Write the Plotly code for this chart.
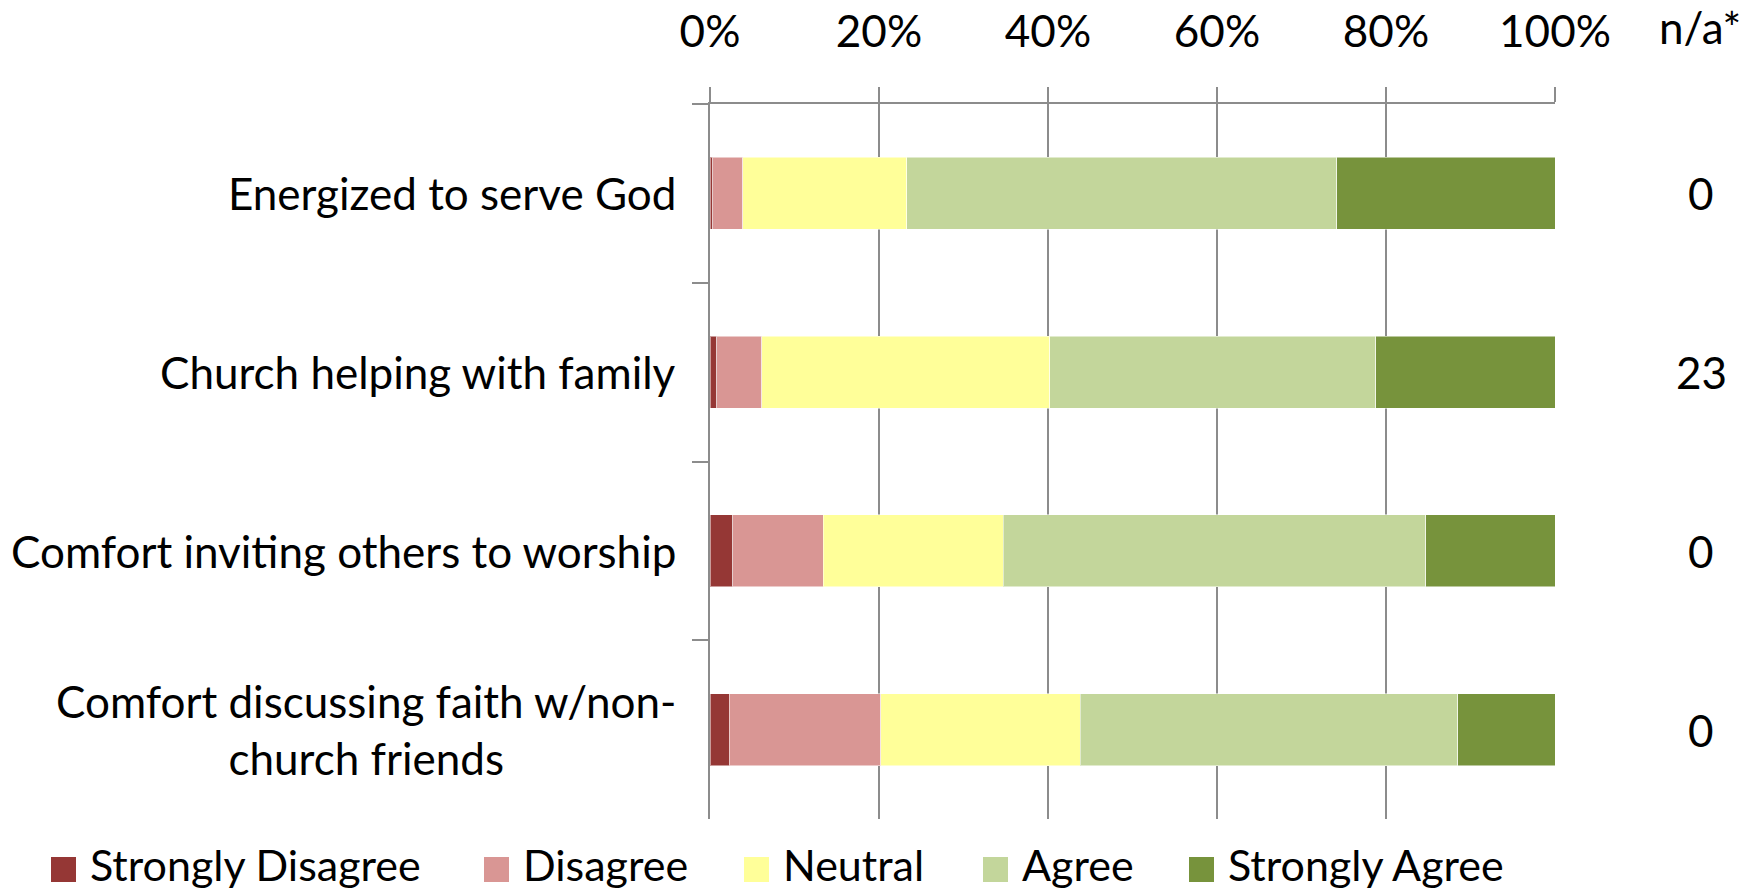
import plotly.graph_objects as go

# Survey statements (top to bottom) and their wrapped display labels
statements = [
    "Energized to serve God",
    "Church helping with family",
    "Comfort inviting others to worship",
    "Comfort discussing faith w/non-church friends",
]
statement_labels = [
    "Energized to serve God",
    "Church helping with family",
    "Comfort inviting others to worship",
    "Comfort discussing faith w/non-<br>church friends",
]

# Response shares (% of answering respondents)
response_levels = ["Strongly Disagree", "Disagree", "Neutral", "Agree", "Strongly Agree"]
strongly_disagree = [0.3, 0.8, 2.7, 2.3]
disagree = [3.6, 5.3, 10.7, 17.9]
neutral = [19.4, 34.1, 21.3, 23.6]
agree = [50.9, 38.6, 50.0, 44.7]
strongly_agree = [25.8, 21.2, 15.3, 11.5]

# Count of "not applicable" answers per statement
na_counts = [0, 23, 0, 0]

x_ticks = [0, 20, 40, 60, 80, 100]

colors = ["#953735", "#D99694", "#FFFF99", "#C3D69B", "#77933C"]
series = [strongly_disagree, disagree, neutral, agree, strongly_agree]

W, H = 1756, 892
ML, MR, MT, MB = 710, 201, 104, 73
PW, PH = W - ML - MR, H - MT - MB
FONT = "Lato"
FS = 44
GRAY = "#8C8C8C"


def px_x(px):
    return (px - ML) / PW


def px_y(py):
    return (H - MB - py) / PH


fig = go.Figure()
for name, vals, col in zip(response_levels, series, colors):
    fig.add_trace(go.Bar(
        y=statements, x=vals, name=name, orientation="h",
        marker=dict(color=col, line=dict(color="rgba(255,255,255,0.5)", width=1)),
        showlegend=False, hoverinfo="x+name",
    ))

annotations = []
# statement labels, centered multi-line, right-aligned to the axis
for s, lab in zip(statements, statement_labels):
    annotations.append(dict(
        x=0, xref="paper", y=s, yref="y", text=lab, showarrow=False,
        xanchor="right", yanchor="middle", align="center", xshift=-32,
        font=dict(family=FONT, size=FS, color="black"),
    ))

# n/a column
annotations.append(dict(
    x=px_x(1700), xref="paper", y=px_y(27), yref="paper", text="n/a*",
    showarrow=False, xanchor="center", yanchor="middle",
    font=dict(family=FONT, size=FS, color="black"),
))
for s, n in zip(statements, na_counts):
    annotations.append(dict(
        x=px_x(1701), xref="paper", y=s, yref="y", text=str(n), showarrow=False,
        xanchor="center", yanchor="middle",
        font=dict(family=FONT, size=FS, color="black"),
    ))

# legend row drawn along the bottom
legend_x = [51, 484, 744, 983, 1189]
shapes = []
for lx, name, col in zip(legend_x, response_levels, colors):
    shapes.append(dict(
        type="rect", xref="paper", yref="paper",
        x0=px_x(lx), x1=px_x(lx + 25), y0=px_y(882), y1=px_y(857),
        fillcolor=col, line=dict(width=0),
    ))
    annotations.append(dict(
        x=px_x(lx + 37), xref="paper", y=px_y(892), yref="paper", text=name,
        showarrow=False, xanchor="left", yanchor="bottom",
        font=dict(family=FONT, size=43, color="black"),
    ))

fig.update_layout(
    width=W, height=H, barmode="stack", bargap=0.597,
    margin=dict(l=ML, r=MR, t=MT, b=MB, pad=0, autoexpand=False),
    paper_bgcolor="white", plot_bgcolor="white",
    font=dict(family=FONT, size=FS, color="black"),
    annotations=annotations, shapes=shapes,
    xaxis=dict(
        side="top", range=[0, 100], tickvals=x_ticks,
        ticktext=[f"{t}%" for t in x_ticks],
        showgrid=True, gridcolor=GRAY, gridwidth=2,
        showline=True, linecolor=GRAY, linewidth=2,
        ticks="outside", ticklen=15, tickwidth=2, tickcolor=GRAY,
        tickfont=dict(family=FONT, size=FS, color="black"),
        ticklabelstandoff=22, zeroline=False, fixedrange=True,
        automargin=False,
    ),
    yaxis=dict(
        type="category", categoryorder="array", categoryarray=statements,
        autorange="reversed", showticklabels=False,
        showline=True, linecolor=GRAY, linewidth=2, mirror=False,
        ticks="outside", ticklen=16, tickwidth=2, tickcolor=GRAY,
        tickson="boundaries", showgrid=False, zeroline=False, fixedrange=True,
        automargin=False,
    ),
)

fig.write_html("out.html")
